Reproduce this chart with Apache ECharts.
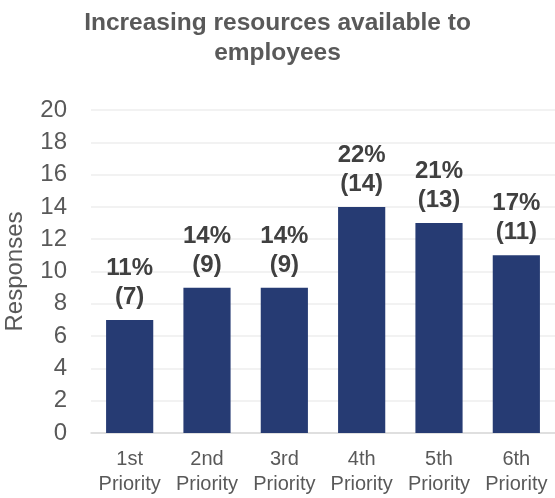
<!DOCTYPE html>
<html><head><meta charset="utf-8">
<script src="https://cdn.jsdelivr.net/npm/echarts@6/dist/echarts.min.js"></script>
<style>html,body{margin:0;padding:0;background:#fff}#c{width:555px;height:498px}</style>
</head><body><div id="c"></div>
<script>
const categories = ['1st\nPriority','2nd\nPriority','3rd\nPriority','4th\nPriority','5th\nPriority','6th\nPriority'];
const responses = [7, 9, 9, 14, 13, 11];
const percents = ['11%','14%','14%','22%','21%','17%'];
const yTicks = {min: 0, max: 20, interval: 2};

const chart = echarts.init(document.getElementById('c'));
chart.setOption({
  animation: false,
  title: {
    text: 'Increasing resources available to\nemployees',
    left: 'center', top: 3,
    textStyle: {fontFamily: 'Liberation Sans, Arial', fontWeight: 'bold', fontSize: 24.5, color: '#595959', lineHeight: 30}
  },
  grid: {left: 91, right: 0, top: 110, bottom: 65, outerBoundsMode: 'none', containLabel: false},
  xAxis: {
    type: 'category', data: categories,
    axisLine: {lineStyle: {color: '#D9D9D9', width: 1.5}},
    axisTick: {show: false},
    axisLabel: {fontFamily: 'Liberation Sans, Arial', fontSize: 20, color: '#595959', lineHeight: 25, margin: 14, interval: 0}
  },
  yAxis: {
    type: 'value', min: yTicks.min, max: yTicks.max, interval: yTicks.interval,
    name: 'Responses', nameLocation: 'middle', nameGap: 64,
    nameTextStyle: {fontFamily: 'Liberation Sans, Arial', fontSize: 24, color: '#595959'},
    axisLine: {show: false}, axisTick: {show: false},
    splitLine: {lineStyle: {color: '#EEEEEE', width: 1.5}},
    axisLabel: {fontFamily: 'Liberation Sans, Arial', fontSize: 24, color: '#595959', margin: 24}
  },
  series: [{
    type: 'bar', data: responses, barCategoryGap: '39%',
    itemStyle: {color: '#263B73'},
    label: {
      show: true, position: 'top', distance: 8,
      formatter: p => percents[p.dataIndex] + '\n(' + p.value + ')',
      fontFamily: 'Liberation Sans, Arial', fontWeight: 'bold', fontSize: 24, color: '#404040', lineHeight: 29
    }
  }]
});
</script></body></html>
